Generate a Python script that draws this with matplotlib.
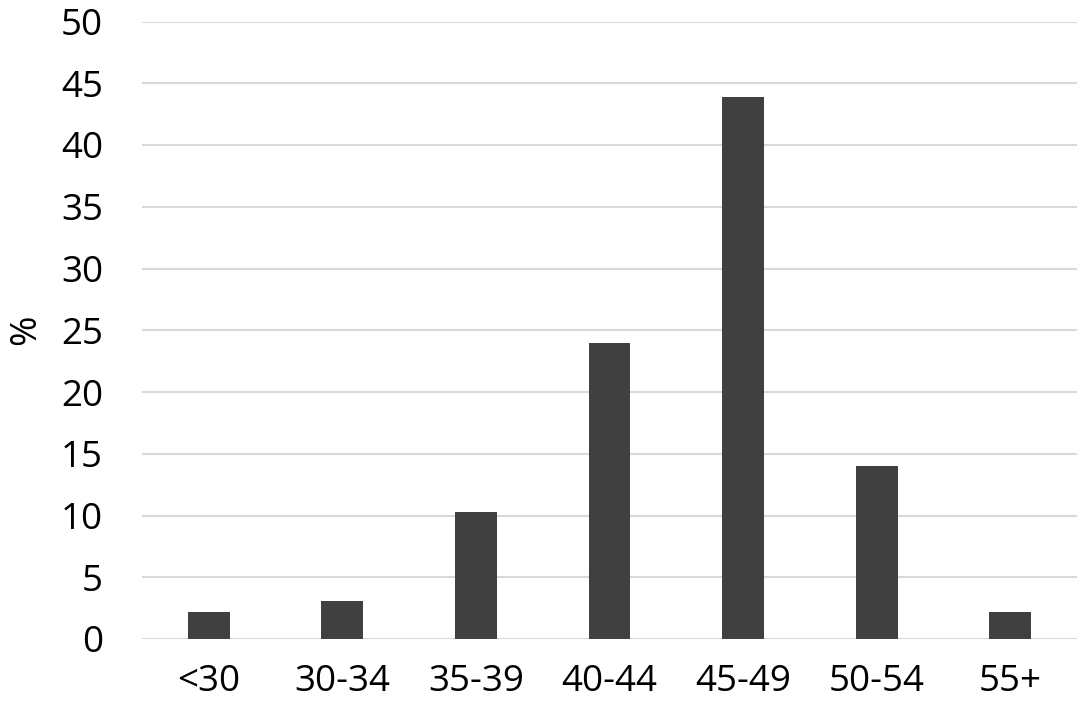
import matplotlib
matplotlib.use("Agg")
import matplotlib.pyplot as plt

categories = ["<30", "30-34", "35-39", "40-44", "45-49", "50-54", "55+"]
values = [2.2, 3.1, 10.3, 24.0, 43.9, 14.0, 2.2]
yticks = [0, 5, 10, 15, 20, 25, 30, 35, 40, 45, 50]

plt.rcParams['font.family'] = ['Open Sans', 'DejaVu Sans']

fig = plt.figure(figsize=(10.79, 7.15), dpi=100)
ax = fig.add_axes([142/1079, 1 - 639/715, (1077-142)/1079, (639-21.5)/715])

x = list(range(len(categories)))
ax.bar(x, values, width=0.314, color="#404040", zorder=3)
ax.set_xlim(-0.5, len(categories) - 0.5)
ax.set_ylim(0, 50)
ax.set_yticks(yticks)
ax.set_xticks(x)
ax.set_xticklabels(categories)
ax.yaxis.grid(True, color="#d9d9d9", linewidth=1.5, zorder=0)
ax.set_axisbelow(True)
for s in ax.spines.values():
    s.set_visible(False)
ax.tick_params(axis='both', length=0, labelsize=26.5, colors="black")
ax.tick_params(axis='y', pad=28)
ax.tick_params(axis='x', pad=18)
ax.set_ylabel("%", fontsize=26.5, va='center', ha='center')
ax.yaxis.set_label_coords((26 - 142) / 935, (639 - 330) / 617.5)

fig.savefig("out.png", dpi=100)
